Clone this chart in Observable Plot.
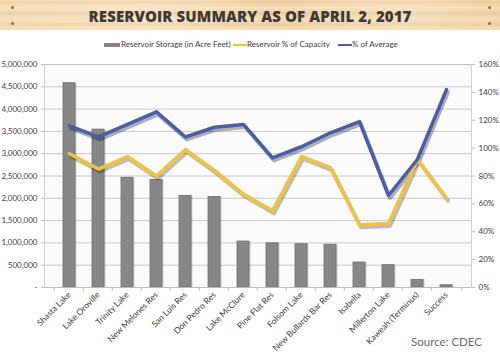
<!DOCTYPE html>
<html>
<head>
<meta charset="utf-8">
<script src="https://cdn.jsdelivr.net/npm/d3@7"></script>
<script src="https://cdn.jsdelivr.net/npm/@observablehq/plot@0.6"></script>
<style>
  body { margin: 0; background: #fff; font-family: "Open Sans", "DejaVu Sans", sans-serif; }
  #wrap { position: relative; width: 500px; height: 355px; overflow: hidden; }
  #banner {
    position: absolute; left: 0; top: 0; width: 500px; height: 30px;
    background:
      repeating-linear-gradient(180deg, rgba(210,160,100,0.0) 0px, rgba(210,160,100,0.18) 2px, rgba(210,160,100,0.0) 5px, rgba(255,240,215,0.25) 8px, rgba(210,160,100,0.0) 11px),
      linear-gradient(90deg, #f4dcb6 0%, #f7e2c0 30%, #f2d6ad 55%, #f6dfbb 80%, #f1d5ab 100%);
  }
  #banner .t {
    position: absolute; left: 0; right: 0; top: 6px; text-align: center;
    font-family: "Open Sans", sans-serif; font-weight: 800; font-size: 15px; color: #3d3a36;
    letter-spacing: 0.1px;
  }
  .nail { position: absolute; width: 3px; height: 3px; border-radius: 50%; background: #8a6a48; }
  #legend { position: absolute; top: 38px; left: 0; width: 500px; height: 14px; font-size: 8px; color: #404040; font-family: Lato, "Open Sans", sans-serif; }
  #legend span { position: absolute; top: 1px; white-space: nowrap; }
  #legend i { position: absolute; display: block; }
  #plot { position: absolute; left: 0; top: 51px; }
  #source { position: absolute; right: 18px; top: 335px; font-size: 11.5px; color: #6b6b6b; font-family: Lato, "Open Sans", sans-serif; }
</style>
</head>
<body>
<div id="wrap">
  <div id="banner">
    <div class="nail" style="left:11px;top:6px"></div>
    <div class="nail" style="left:11px;top:22px"></div>
    <div class="nail" style="left:488px;top:6px"></div>
    <div class="nail" style="left:488px;top:22px"></div>
    <div class="t">RESERVOIR SUMMARY AS OF APRIL 2, 2017</div>
  </div>
  <div id="legend"></div>
  <div id="plot"></div>
  <div id="source">Source: CDEC</div>
</div>
<script>
const reservoirs = ["Shasta Lake", "Lake Oroville", "Trinity Lake", "New Melones Res", "San Luis Res", "Don Pedro Res", "Lake McClure", "Pine Flat Res", "Folsom Lake", "New Bullards Bar Res", "Isabella", "Millerton Lake", "Kaweah (Terminus)", "Success"];
const storage = [4580000, 3540000, 2460000, 2410000, 2050000, 2030000, 1030000, 990000, 970000, 960000, 560000, 500000, 170000, 50000];
const pctCapacity = [96, 85, 94, 80, 99, 84, 67, 55, 94, 86, 45, 46, 92, 64];
const pctAverage = [116, 108, 117, 126, 108, 115, 117, 93, 101, 111, 119, 66, 92, 142];
const leftTicks = [0, 500000, 1000000, 1500000, 2000000, 2500000, 3000000, 3500000, 4000000, 4500000, 5000000];
const rightTicks = [0, 20, 40, 60, 80, 100, 120, 140, 160];
const seriesNames = ["Reservoir Storage (in Acre Feet)", "Reservoir % of Capacity", "% of Average"];
const colors = ["#858585", "#f0c33c", "#4a5da9"];

// legend
const legend = document.getElementById("legend");
const legendPos = [{sx:104, sw:16, tx:121, h:4}, {sx:233, sw:14, tx:247, h:2.5}, {sx:338, sw:14, tx:352, h:2.5}];
seriesNames.forEach((n, i) => {
  const p = legendPos[i];
  const sw = document.createElement("i");
  sw.style.cssText = `left:${p.sx}px;top:${7 - p.h/2}px;width:${p.sw}px;height:${p.h}px;background:${colors[i]};`;
  legend.appendChild(sw);
  const s = document.createElement("span");
  s.style.left = p.tx + "px";
  s.textContent = n;
  legend.appendChild(s);
});

const MAXV = 5000000, MAXP = 160;
const toY = p => p * MAXV / MAXP;
const data = reservoirs.map((r, i) => ({r, s: storage[i], c: toY(pctCapacity[i]), a: toY(pctAverage[i])}));
const fmt = d3.format(",");
const step = (500 - 44 - 29) / reservoirs.length;

const chart = Plot.plot({
  width: 500,
  height: 304,
  marginTop: 13,
  marginBottom: 68,
  marginLeft: 44,
  marginRight: 29,
  style: {fontFamily: "Lato, 'Open Sans', sans-serif", fontSize: "8px", color: "#404040", background: "transparent"},
  x: {domain: reservoirs, padding: 0.58, label: null},
  y: {domain: [0, MAXV], label: null},
  marks: [
    Plot.frame({fill: "#fbfbfb", stroke: "#d0d0d0"}),
    Plot.gridY(leftTicks, {stroke: "#bdbdbd", strokeOpacity: 1, strokeWidth: 0.8}),
    Plot.barY(data, {x: "r", y: "s", fill: "#000", fillOpacity: 0.18, dx: 1.5, style: {filter: "blur(1px)"}}),
    Plot.barY(data, {x: "r", y: "s", fill: "#878787", stroke: "#6e6e6e", strokeWidth: 0.8}),
    Plot.lineY(data, {x: "r", y: "a", stroke: "#000", strokeOpacity: 0.3, strokeWidth: 4, dx: 1.5, dy: 2.5, style: {filter: "blur(1.5px)"}}),
    Plot.lineY(data, {x: "r", y: "c", stroke: "#000", strokeOpacity: 0.25, strokeWidth: 4, dx: 1.5, dy: 2.5, style: {filter: "blur(1.5px)"}}),
    Plot.lineY(data, {x: "r", y: "c", stroke: colors[1], strokeWidth: 3.5}),
    Plot.lineY(data, {x: "r", y: "a", stroke: colors[2], strokeWidth: 3.5}),
    Plot.ruleY([0], {stroke: "#bdbdbd"}),
    Plot.ruleX(reservoirs, {x: d => d, dx: -step / 2, y1: 0, y2: -90000, stroke: "#bdbdbd"}),
    Plot.ruleX([reservoirs[reservoirs.length - 1]], {x: d => d, dx: step / 2, y1: 0, y2: -90000, stroke: "#bdbdbd"}),
    Plot.axisY({ticks: leftTicks, tickFormat: d => d === 0 ? "-" : fmt(d), tickSize: 3, tickPadding: 4, stroke: "#bdbdbd", fill: "#404040", label: null}),
    Plot.axisY({anchor: "right", ticks: rightTicks.map(toY), tickFormat: d => Math.round(d * MAXP / MAXV) + "%", tickSize: 3, tickPadding: 4, stroke: "#bdbdbd", fill: "#404040", label: null}),
    Plot.axisX({tickRotate: -45, tickSize: 0, tickPadding: 6, fill: "#404040", fontSize: 8.5, label: null})
  ]
});
document.getElementById("plot").appendChild(chart);
</script>
</body>
</html>
